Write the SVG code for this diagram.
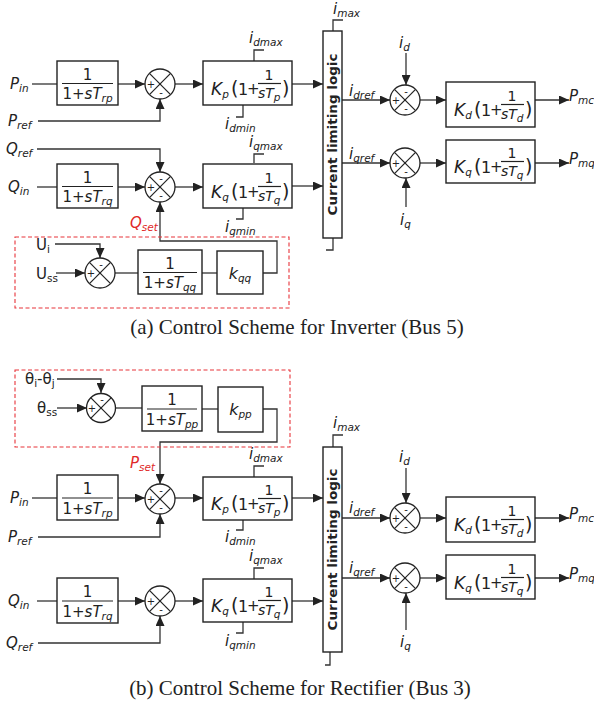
<svg xmlns="http://www.w3.org/2000/svg" width="594" height="704" viewBox="0 0 594 704">
<style>
.ln{stroke:#333;stroke-width:1.3;fill:none}
.box{fill:#fff;stroke:#222;stroke-width:1.4}
.sum{fill:#fff;stroke:#222;stroke-width:1.3}
.x{stroke:#222;stroke-width:1.2}
.dash{fill:none;stroke:#e8343a;stroke-width:1.1;stroke-dasharray:4,2.5}
text{font-family:"DejaVu Sans","Liberation Sans",sans-serif;fill:#222}
.lbl{font-size:15px;font-style:italic}
.up{font-size:15px}
.sub{font-size:10.5px;font-style:italic}
.subu{font-size:10.5px}
.red{fill:#e02828}
.sg{font-size:10px;text-anchor:middle}
.num{font-size:15px;text-anchor:middle}
.den{font-size:15px;text-anchor:middle}
.cl{font-size:13px;font-weight:bold;text-anchor:middle}
.cap{font-family:"Liberation Serif","Times New Roman",serif;font-size:21px;text-anchor:middle;fill:#222}
.K{font-size:17px;font-style:italic}
.par{font-size:19px}
.one{font-size:16px}
.pl{font-size:15px}
.fn{font-size:14px;text-anchor:middle}
.fd{font-size:14px;font-style:italic}
.k{font-size:16px;font-style:italic;text-anchor:middle}
</style>
<defs>
<marker id="ah" markerUnits="userSpaceOnUse" markerWidth="11" markerHeight="9" refX="10" refY="4.5" orient="auto">
<path d="M0,0 L10,4.5 L0,9 z" fill="#222"/>
</marker>
<g id="X"><line class="x" x1="-10.3" y1="-10.3" x2="10.3" y2="10.3"/><line class="x" x1="-10.3" y1="10.3" x2="10.3" y2="-10.3"/></g>
</defs>

<!-- ================= (a) ================= -->
<g id="conn-a" class="ln">
<path d="M32,84 H57"/>
<path d="M118,84 H145" marker-end="url(#ah)"/>
<path d="M38,121 H160 V99" marker-end="url(#ah)"/>
<path d="M175,84 H203" marker-end="url(#ah)"/>
<path d="M292,84 H323" marker-end="url(#ah)"/>
<path d="M37,149 H160 V172" marker-end="url(#ah)"/>
<path d="M37,187 H57"/>
<path d="M118,187 H145" marker-end="url(#ah)"/>
<path d="M175,187 H203" marker-end="url(#ah)"/>
<path d="M292,186 H323" marker-end="url(#ah)"/>
<path d="M263,273 H277 V241 H160 V202" marker-end="url(#ah)"/>
<path d="M55,244 H100 V258" marker-end="url(#ah)"/>
<path d="M56,273 H85" marker-end="url(#ah)"/>
<path d="M115,273 H138"/>
<path d="M202,273 H217"/>
<path d="M342,100 H390" marker-end="url(#ah)"/>
<path d="M406,53 V85" marker-end="url(#ah)"/>
<path d="M420,100 H446" marker-end="url(#ah)"/>
<path d="M535,100 H569" marker-end="url(#ah)"/>
<path d="M342,163 H390" marker-end="url(#ah)"/>
<path d="M406,207 V178" marker-end="url(#ah)"/>
<path d="M420,163 H446" marker-end="url(#ah)"/>
<path d="M535,163 H569" marker-end="url(#ah)"/>
<path d="M254,61 V50 H264"/>
<path d="M243,105 V117 H236"/>
<path d="M254,163 V154 H264"/>
<path d="M243,208 V219 H236"/>
<path d="M333,31 V20 H343"/>
<path d="M333,238 V250 H326"/>
</g>

<rect id="qset-region" class="dash" x="15" y="237" width="274" height="71"/>

<g id="lbl-a">
<text class="lbl" x="10" y="89">P<tspan class="sub" dy="3">in</tspan></text>
<text class="lbl" x="8" y="126">P<tspan class="sub" dy="3">ref</tspan></text>
<text class="lbl" x="6" y="154">Q<tspan class="sub" dy="3">ref</tspan></text>
<text class="lbl" x="8" y="192">Q<tspan class="sub" dy="3">in</tspan></text>
<text class="lbl red" x="130" y="228">Q<tspan class="sub" dy="3">set</tspan></text>
<text class="up" x="36" y="250">U<tspan class="subu" dy="3">i</tspan></text>
<text class="up" x="36" y="279">U<tspan class="subu" dy="3">ss</tspan></text>
<text class="lbl" x="249" y="43">i<tspan class="sub" dy="3">dmax</tspan></text>
<text class="lbl" x="225" y="129">i<tspan class="sub" dy="3">dmin</tspan></text>
<text class="lbl" x="249" y="147">i<tspan class="sub" dy="3">qmax</tspan></text>
<text class="lbl" x="225" y="232">i<tspan class="sub" dy="3">qmin</tspan></text>
<text class="lbl" x="333" y="14">i<tspan class="sub" dy="3">max</tspan></text>
<text class="lbl" x="349" y="96">i<tspan class="sub" dy="3">dref</tspan></text>
<text class="lbl" x="349" y="159">i<tspan class="sub" dy="3">qref</tspan></text>
<text class="lbl" x="399" y="48">i<tspan class="sub" dy="3">d</tspan></text>
<text class="lbl" x="400" y="225">i<tspan class="sub" dy="3">q</tspan></text>
<text class="lbl" x="569" y="101">P<tspan class="sub" dy="3">mc</tspan></text>
<text class="lbl" x="569" y="164">P<tspan class="sub" dy="3">mq</tspan></text>
</g>

<g id="filt-p-a" transform="translate(57,61)">
<rect class="box" width="61" height="44"/>
<text class="num" x="30.5" y="19">1</text>
<line class="x" x1="5" x2="56" y1="22.5" y2="22.5"/>
<text class="den" x="30.5" y="38">1+<tspan font-style="italic">sT</tspan><tspan class="sub" dy="3">rp</tspan></text>
</g>
<g id="filt-q-a" transform="translate(57,164)">
<rect class="box" width="61" height="44"/>
<text class="num" x="30.5" y="19">1</text>
<line class="x" x1="5" x2="56" y1="22.5" y2="22.5"/>
<text class="den" x="30.5" y="38">1+<tspan font-style="italic">sT</tspan><tspan class="sub" dy="3">rq</tspan></text>
</g>
<g id="filt-qq" transform="translate(138,250)">
<rect class="box" width="64" height="44"/>
<text class="num" x="32" y="19">1</text>
<line class="x" x1="5" x2="59" y1="22.5" y2="22.5"/>
<text class="den" x="32" y="38">1+<tspan font-style="italic">sT</tspan><tspan class="sub" dy="3">qq</tspan></text>
</g>
<g id="gain-kqq">
<rect class="box" x="217" y="251" width="46" height="43"/>
<text class="k" x="240" y="279">k<tspan class="sub" dy="3">qq</tspan></text>
</g>

<g id="sum-p-a" transform="translate(160,84)">
<circle class="sum" r="15"/><use href="#X"/>
<text class="sg" x="-9" y="4">+</text><text class="sg" x="1" y="12">-</text>
</g>
<g id="sum-q-a" transform="translate(160,187)">
<circle class="sum" r="15"/><use href="#X"/>
<text class="sg" x="1" y="-5">-</text><text class="sg" x="-9" y="4">+</text><text class="sg" x="1" y="12">-</text>
</g>
<g id="sum-u" transform="translate(100,273)">
<circle class="sum" r="15"/><use href="#X"/>
<text class="sg" x="1" y="-5">-</text><text class="sg" x="-9" y="4">+</text>
</g>
<g id="sum-d-a" transform="translate(405,100)">
<circle class="sum" r="15"/><use href="#X"/>
<text class="sg" x="1" y="-5">-</text><text class="sg" x="-9" y="4">+</text><text class="sg" x="1" y="12">-</text>
</g>
<g id="sum-qr-a" transform="translate(405,163)">
<circle class="sum" r="15"/><use href="#X"/>
<text class="sg" x="-9" y="4">+</text><text class="sg" x="1" y="12">-</text>
</g>

<g id="pi-p-a" transform="translate(203,61)">
<rect class="box" width="89" height="44"/>
<text class="K" x="8" y="34">K<tspan class="sub" dy="3">p</tspan></text>
<text class="par" x="28" y="34">(</text>
<text class="one" x="35" y="34">1</text>
<text class="pl" x="44" y="33">+</text>
<text class="fn" x="66" y="19">1</text>
<line class="x" x1="55" x2="78" y1="22.5" y2="22.5"/>
<text class="fd" x="55" y="37">sT<tspan class="sub" dy="3">p</tspan></text>
<text class="par" x="79" y="34">)</text>
</g>
<g id="pi-q-a" transform="translate(203,164)">
<rect class="box" width="89" height="44"/>
<text class="K" x="8" y="34">K<tspan class="sub" dy="3">q</tspan></text>
<text class="par" x="28" y="34">(</text>
<text class="one" x="35" y="34">1</text>
<text class="pl" x="44" y="33">+</text>
<text class="fn" x="66" y="19">1</text>
<line class="x" x1="55" x2="78" y1="22.5" y2="22.5"/>
<text class="fd" x="55" y="37">sT<tspan class="sub" dy="3">q</tspan></text>
<text class="par" x="79" y="34">)</text>
</g>
<g id="pi-d-a" transform="translate(446,82)">
<rect class="box" width="89" height="45"/>
<text class="K" x="8" y="34">K<tspan class="sub" dy="3">d</tspan></text>
<text class="par" x="28" y="34">(</text>
<text class="one" x="35" y="34">1</text>
<text class="pl" x="44" y="33">+</text>
<text class="fn" x="66" y="19">1</text>
<line class="x" x1="55" x2="78" y1="22.5" y2="22.5"/>
<text class="fd" x="55" y="37">sT<tspan class="sub" dy="3">d</tspan></text>
<text class="par" x="79" y="34">)</text>
</g>
<g id="pi-qr-a" transform="translate(446,140)">
<rect class="box" width="89" height="43"/>
<text class="K" x="8" y="33">K<tspan class="sub" dy="3">q</tspan></text>
<text class="par" x="28" y="33">(</text>
<text class="one" x="35" y="33">1</text>
<text class="pl" x="44" y="32">+</text>
<text class="fn" x="66" y="18">1</text>
<line class="x" x1="55" x2="78" y1="21.5" y2="21.5"/>
<text class="fd" x="55" y="36">sT<tspan class="sub" dy="3">q</tspan></text>
<text class="par" x="79" y="33">)</text>
</g>

<g id="clim-a">
<rect class="box" x="323" y="31" width="19" height="207"/>
<text class="cl" transform="translate(337.2,134.5) rotate(-90)" textLength="162" lengthAdjust="spacingAndGlyphs">Current limiting logic</text>
</g>

<text id="cap-a" class="cap" x="297" y="334">(a) Control Scheme for Inverter (Bus 5)</text>

<!-- ================= (b) ================= -->
<g id="conn-b" class="ln">
<path d="M57,379 H101 V393" marker-end="url(#ah)"/>
<path d="M57,408 H87" marker-end="url(#ah)"/>
<path d="M115,408 H142"/>
<path d="M202,409 H218"/>
<path d="M263,409 H277 V442 H160 V484" marker-end="url(#ah)"/>
<path d="M32,498 H57"/>
<path d="M118,498 H145" marker-end="url(#ah)"/>
<path d="M38,537 H160 V514" marker-end="url(#ah)"/>
<path d="M175,498 H203" marker-end="url(#ah)"/>
<path d="M292,498 H323" marker-end="url(#ah)"/>
<path d="M37,601 H57"/>
<path d="M118,601 H145" marker-end="url(#ah)"/>
<path d="M38,643 H160 V616" marker-end="url(#ah)"/>
<path d="M175,601 H203" marker-end="url(#ah)"/>
<path d="M292,601 H323" marker-end="url(#ah)"/>
<path d="M254,477 V466 H264"/>
<path d="M243,520 V530 H236"/>
<path d="M254,579 V568 H264"/>
<path d="M243,622 V633 H236"/>
<path d="M333,447 V435 H343"/>
<path d="M330,652 V665 H325"/>
<path d="M342,518 H390" marker-end="url(#ah)"/>
<path d="M406,468 V503" marker-end="url(#ah)"/>
<path d="M420,518 H446" marker-end="url(#ah)"/>
<path d="M535,518 H569" marker-end="url(#ah)"/>
<path d="M342,578 H390" marker-end="url(#ah)"/>
<path d="M406,630 V593" marker-end="url(#ah)"/>
<path d="M420,578 H446" marker-end="url(#ah)"/>
<path d="M535,578 H569" marker-end="url(#ah)"/>
</g>

<rect id="pset-region" class="dash" x="15" y="370" width="275" height="77"/>

<g id="lbl-b">
<text class="up" x="25" y="384">θ<tspan class="subu" dy="3">i</tspan><tspan dy="-3">-θ</tspan><tspan class="subu" dy="3">j</tspan></text>
<text class="up" x="37" y="413">θ<tspan class="subu" dy="3">ss</tspan></text>
<text class="lbl red" x="130" y="468">P<tspan class="sub" dy="3">set</tspan></text>
<text class="lbl" x="10" y="503">P<tspan class="sub" dy="3">in</tspan></text>
<text class="lbl" x="8" y="542">P<tspan class="sub" dy="3">ref</tspan></text>
<text class="lbl" x="8" y="606">Q<tspan class="sub" dy="3">in</tspan></text>
<text class="lbl" x="6" y="648">Q<tspan class="sub" dy="3">ref</tspan></text>
<text class="lbl" x="249" y="459">i<tspan class="sub" dy="3">dmax</tspan></text>
<text class="lbl" x="225" y="542">i<tspan class="sub" dy="3">dmin</tspan></text>
<text class="lbl" x="249" y="561">i<tspan class="sub" dy="3">qmax</tspan></text>
<text class="lbl" x="225" y="646">i<tspan class="sub" dy="3">qmin</tspan></text>
<text class="lbl" x="333" y="428">i<tspan class="sub" dy="3">max</tspan></text>
<text class="lbl" x="349" y="513">i<tspan class="sub" dy="3">dref</tspan></text>
<text class="lbl" x="349" y="573">i<tspan class="sub" dy="3">qref</tspan></text>
<text class="lbl" x="399" y="462">i<tspan class="sub" dy="3">d</tspan></text>
<text class="lbl" x="400" y="647">i<tspan class="sub" dy="3">q</tspan></text>
<text class="lbl" x="569" y="519">P<tspan class="sub" dy="3">mc</tspan></text>
<text class="lbl" x="569" y="579">P<tspan class="sub" dy="3">mq</tspan></text>
</g>

<g id="filt-pp" transform="translate(142,386)">
<rect class="box" width="60" height="45"/>
<text class="num" x="30" y="19">1</text>
<line class="x" x1="5" x2="55" y1="23" y2="23"/>
<text class="den" x="30" y="39">1+<tspan font-style="italic">sT</tspan><tspan class="sub" dy="3">pp</tspan></text>
</g>
<g id="gain-kpp">
<rect class="box" x="218" y="387" width="45" height="45"/>
<text class="k" x="240.5" y="415">k<tspan class="sub" dy="3">pp</tspan></text>
</g>
<g id="filt-p-b" transform="translate(57,475)">
<rect class="box" width="61" height="45"/>
<text class="num" x="30.5" y="19">1</text>
<line class="x" x1="5" x2="56" y1="23" y2="23"/>
<text class="den" x="30.5" y="39">1+<tspan font-style="italic">sT</tspan><tspan class="sub" dy="3">rp</tspan></text>
</g>
<g id="filt-q-b" transform="translate(57,578)">
<rect class="box" width="61" height="45"/>
<text class="num" x="30.5" y="19">1</text>
<line class="x" x1="5" x2="56" y1="23" y2="23"/>
<text class="den" x="30.5" y="39">1+<tspan font-style="italic">sT</tspan><tspan class="sub" dy="3">rq</tspan></text>
</g>

<g id="sum-th" transform="translate(101,408)">
<circle class="sum" r="14.5"/><use href="#X"/>
<text class="sg" x="1" y="-5">-</text><text class="sg" x="-9" y="4">+</text>
</g>
<g id="sum-p-b" transform="translate(160,499)">
<circle class="sum" r="15"/><use href="#X"/>
<text class="sg" x="1" y="-5">-</text><text class="sg" x="-9" y="4">+</text><text class="sg" x="1" y="12">-</text>
</g>
<g id="sum-q-b" transform="translate(160,601)">
<circle class="sum" r="15"/><use href="#X"/>
<text class="sg" x="-9" y="4">+</text><text class="sg" x="1" y="12">-</text>
</g>
<g id="sum-d-b" transform="translate(405,518)">
<circle class="sum" r="15"/><use href="#X"/>
<text class="sg" x="1" y="-5">-</text><text class="sg" x="-9" y="4">+</text><text class="sg" x="1" y="12">-</text>
</g>
<g id="sum-qr-b" transform="translate(405,578)">
<circle class="sum" r="15"/><use href="#X"/>
<text class="sg" x="-9" y="4">+</text><text class="sg" x="1" y="12">-</text>
</g>

<g id="pi-p-b" transform="translate(203,477)">
<rect class="box" width="89" height="43"/>
<text class="K" x="8" y="33">K<tspan class="sub" dy="3">p</tspan></text>
<text class="par" x="28" y="33">(</text>
<text class="one" x="35" y="33">1</text>
<text class="pl" x="44" y="32">+</text>
<text class="fn" x="66" y="18">1</text>
<line class="x" x1="55" x2="78" y1="21.5" y2="21.5"/>
<text class="fd" x="55" y="36">sT<tspan class="sub" dy="3">p</tspan></text>
<text class="par" x="79" y="33">)</text>
</g>
<g id="pi-q-b" transform="translate(203,579)">
<rect class="box" width="89" height="43"/>
<text class="K" x="8" y="33">K<tspan class="sub" dy="3">q</tspan></text>
<text class="par" x="28" y="33">(</text>
<text class="one" x="35" y="33">1</text>
<text class="pl" x="44" y="32">+</text>
<text class="fn" x="66" y="18">1</text>
<line class="x" x1="55" x2="78" y1="21.5" y2="21.5"/>
<text class="fd" x="55" y="36">sT<tspan class="sub" dy="3">q</tspan></text>
<text class="par" x="79" y="33">)</text>
</g>
<g id="pi-d-b" transform="translate(446,497)">
<rect class="box" width="89" height="45"/>
<text class="K" x="8" y="34">K<tspan class="sub" dy="3">d</tspan></text>
<text class="par" x="28" y="34">(</text>
<text class="one" x="35" y="34">1</text>
<text class="pl" x="44" y="33">+</text>
<text class="fn" x="66" y="19">1</text>
<line class="x" x1="55" x2="78" y1="22.5" y2="22.5"/>
<text class="fd" x="55" y="37">sT<tspan class="sub" dy="3">d</tspan></text>
<text class="par" x="79" y="34">)</text>
</g>
<g id="pi-qr-b" transform="translate(446,555)">
<rect class="box" width="89" height="44"/>
<text class="K" x="8" y="34">K<tspan class="sub" dy="3">q</tspan></text>
<text class="par" x="28" y="34">(</text>
<text class="one" x="35" y="34">1</text>
<text class="pl" x="44" y="33">+</text>
<text class="fn" x="66" y="19">1</text>
<line class="x" x1="55" x2="78" y1="22.5" y2="22.5"/>
<text class="fd" x="55" y="37">sT<tspan class="sub" dy="3">q</tspan></text>
<text class="par" x="79" y="34">)</text>
</g>

<g id="clim-b">
<rect class="box" x="323" y="447" width="19" height="205"/>
<text class="cl" transform="translate(337.2,549.5) rotate(-90)" textLength="162" lengthAdjust="spacingAndGlyphs">Current limiting logic</text>
</g>

<text id="cap-b" class="cap" x="300" y="695">(b) Control Scheme for Rectifier (Bus 3)</text>
</svg>
